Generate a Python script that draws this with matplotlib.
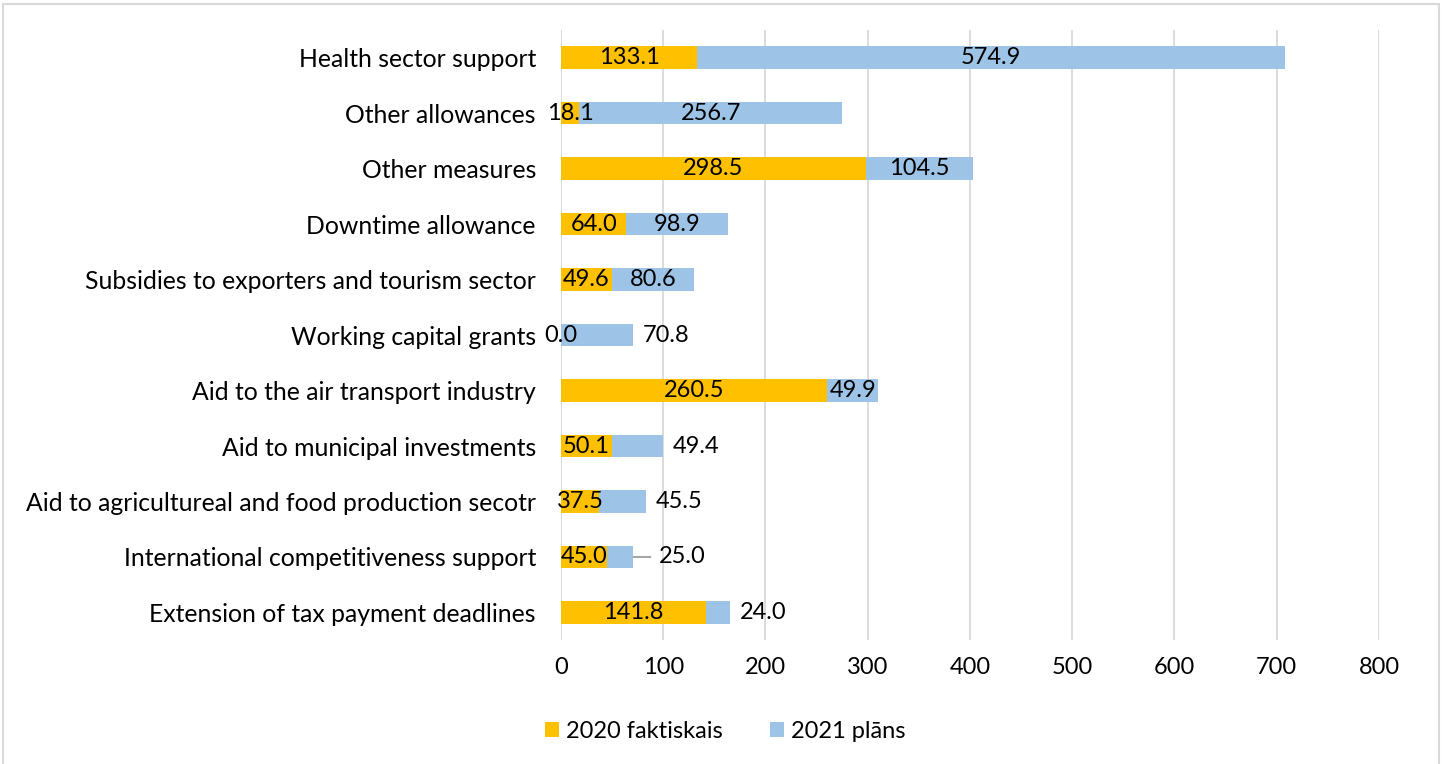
import numpy as np
import matplotlib.pyplot as plt
from matplotlib.patches import Rectangle

plt.rcParams['font.family'] = ['Lato', 'DejaVu Sans']

categories = [
    "Health sector support",
    "Other allowances",
    "Other measures",
    "Downtime allowance",
    "Subsidies to exporters and tourism sector",
    "Working capital grants",
    "Aid to the air transport industry",
    "Aid to municipal investments",
    "Aid to agricultureal and food production secotr",
    "International competitiveness support",
    "Extension of tax payment deadlines",
]
actual_2020 = [133.1, 18.1, 298.5, 64.0, 49.6, 0.0, 260.5, 50.1, 37.5, 45.0, 141.8]
plan_2021 = [574.9, 256.7, 104.5, 98.9, 80.6, 70.8, 49.9, 49.4, 45.5, 25.0, 24.0]
# blue labels that sit outside the bar end
plan_outside = [False, False, False, False, False, True, False, True, True, True, True]

c_orange = '#FFC000'
c_blue = '#9DC3E6'
fs = 17

fig = plt.figure(figsize=(14.42, 7.64), dpi=100)
ax = fig.add_axes([0.389, 0.162, 0.5673, 0.799])

y = np.arange(len(categories))
ax.barh(y, actual_2020, height=0.4, color=c_orange, label='2020 faktiskais', zorder=3)
ax.barh(y, plan_2021, left=actual_2020, height=0.4, color=c_blue, label='2021 plāns', zorder=3)

for i, (a, p, out) in enumerate(zip(actual_2020, plan_2021, plan_outside)):
    ax.text(a / 2, i, f"{a:.1f}", ha='center', va='center', fontsize=fs, zorder=5)
    if out:
        end = a + p
        if p == 25.0:
            # callout leader for the label pushed away from the bar
            ax.plot([end + 1, end + 17], [i, i], color='#A6A6A6', lw=1.5, zorder=4)
            ax.annotate(f"{p:.1f}", (end, i), xytext=(19, 0), textcoords='offset points',
                        ha='left', va='center', fontsize=fs, zorder=5)
        else:
            ax.annotate(f"{p:.1f}", (end, i), xytext=(7, 0), textcoords='offset points',
                        ha='left', va='center', fontsize=fs, zorder=5)
    else:
        ax.text(a + p / 2, i, f"{p:.1f}", ha='center', va='center', fontsize=fs, zorder=5)

ax.set_xlim(0, 800)
ax.set_ylim(len(categories) - 0.5, -0.5)
ax.set_xticks(np.arange(0, 801, 100))
ax.set_yticks(y)
ax.set_yticklabels(categories, fontsize=17.8)
ax.tick_params(axis='x', labelsize=fs, length=0, pad=12)
ax.tick_params(axis='y', length=0, pad=18)
ax.grid(axis='x', color='#D9D9D9', lw=1.3, zorder=0)
for s in ax.spines.values():
    s.set_visible(False)

ax.legend(loc='center', bbox_to_anchor=(0.503, 0.043), bbox_transform=fig.transFigure,
          ncol=2, frameon=False, fontsize=fs, handlelength=0.6, handleheight=0.6,
          columnspacing=2.0, handletextpad=0.3)

fig.patches.append(Rectangle((0.002, -0.01), 0.996, 1.005, transform=fig.transFigure,
                             fill=False, edgecolor='#D9D9D9', lw=1.5))

fig.savefig('out.png', dpi=100)
